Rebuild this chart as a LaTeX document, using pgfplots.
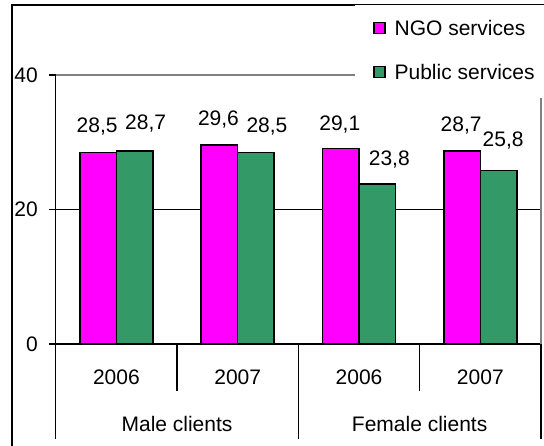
\documentclass[border=0pt]{standalone}
\usepackage{fontspec}
\setmainfont{Liberation Sans}
\usepackage{pgfplots}
\pgfplotsset{compat=1.18}
\usepackage{pgfplotstable}
\definecolor{ngo}{HTML}{FF00FF}
\definecolor{pub}{HTML}{339966}
\newcommand\lab{\fontsize{21}{25}\selectfont}

\pgfplotstableread{
x y dx dy
0 28.5 -1 19.5
1 29.6 -1 19
2 29.1 -1 18
3 28.7 -1 19
}\ngotab
\pgfplotstableread{
x y dx dy
0 28.7 11 21
1 28.5 11 19.5
2 23.8 12 18
3 25.8 4.5 24
}\pubtab

\begin{document}
\begin{tikzpicture}
\useasboundingbox (0,0) rectangle (544pt,446pt);
\draw[line width=1.6pt] (11.7pt,-30pt) rectangle (600pt,441pt);
\begin{axis}[
  at={(55.7pt,102pt)}, anchor=south west, scale only axis,
  width=485.3pt, height=269pt,
  xmin=-0.5, xmax=3.5, ymin=0, ymax=40,
  ybar=0pt, bar width=36.5pt,
  axis x line*=bottom, axis y line*=left,
  axis line style={line width=1.6pt, black, -},
  /pgf/number format/assume math mode=true,
  ytick={0,20,40}, ytick pos=left,
  tick align=outside, major tick length=6.7pt,
  tick style={line width=1.6pt, black},
  xtick={0,1,2,3}, xticklabels={2006,2007,2006,2007},
  major x tick style={draw=none},
  xticklabel style={font=\lab, anchor=base, inner sep=0pt, yshift=-34pt},
  yticklabel style={font=\lab, anchor=east, inner sep=0pt, xshift=-11pt},
  ymajorgrids, grid style={black, line width=1.6pt},
  nodes near coords={\pgfmathprintnumber[fixed, precision=1, fixed zerofill, use comma]{\pgfplotspointmeta}},
  visualization depends on={\thisrow{dx} \as \dx},
  visualization depends on={\thisrow{dy} \as \dy},
  every node near coord/.append style={font=\lab, anchor=base, inner sep=0pt, xshift=\dx pt, yshift=\dy pt, black},
  legend style={at={(0.617,1.26)}, anchor=north west, draw=none, fill=white,
    inner xsep=18pt, inner ysep=14pt, font=\lab, row sep=23pt,
    nodes={inner sep=0pt, text height=16pt, text depth=5pt},
    /tikz/every odd column/.append style={column sep=9pt}},
  legend cell align=left,
  legend image code/.code={\draw[#1, draw=black, line width=1.3pt] (0pt,-3.5pt) rectangle (11pt,7.5pt);},
  after end axis/.code={
    \draw[gray, line width=1.6pt] (rel axis cs:0,1) -- (rel axis cs:1,1) -- (rel axis cs:1,0);
    \draw[line width=1.6pt] (axis cs:-0.5,0) -- ++(0,-95pt);
    \draw[line width=1.6pt] (axis cs:0.5,0) -- ++(0,-47pt);
    \draw[line width=1.6pt] (axis cs:1.5,0) -- ++(0,-95pt);
    \draw[line width=1.6pt] (axis cs:2.5,0) -- ++(0,-47pt);
    \draw[line width=1.6pt] (axis cs:3.5,0) -- ++(0,-95pt);
    \node[font=\lab, anchor=base, inner sep=0pt] at ([yshift=-87.7pt]axis cs:0.5,0) {Male clients};
    \node[font=\lab, anchor=base, inner sep=0pt] at ([yshift=-87.7pt]axis cs:2.5,0) {Female clients};
  },
]
\addplot[fill=ngo, draw=black, line width=1.5pt] table[x=x, y=y] {\ngotab};
\addplot[fill=pub, draw=black, line width=1.5pt] table[x=x, y=y] {\pubtab};
\legend{NGO services, Public services}
\end{axis}
\end{tikzpicture}
\end{document}
